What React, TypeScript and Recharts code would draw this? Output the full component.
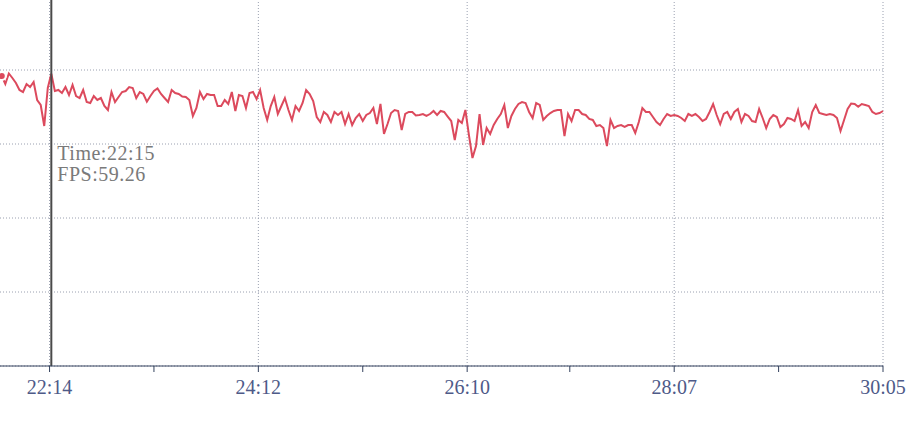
import {
  CartesianGrid,
  Line,
  LineChart,
  ReferenceLine,
  XAxis,
  YAxis,
} from 'recharts';

// FPS samples, one every 2 seconds starting at 21:47
const startSecond = 1307;
const stepSeconds = 2;

const fpsValues = [
  58.78, 57.16, 59.29, 58.38, 57.36, 55.95, 55.54, 57.16, 56.55, 57.57,
  53.92, 52.91, 48.65, 56.35, 59.26, 55.74, 55.95, 55.34, 56.55, 54.93,
  56.96, 54.73, 54.32, 55.95, 53.51, 53.31, 54.73, 53.92, 54.32, 52.7,
  51.89, 55.54, 53.51, 54.53, 55.54, 55.74, 56.55, 56.35, 54.32, 55.54,
  55.14, 53.57, 54.73, 55.74, 56.25, 55.14, 54.32, 53.51, 55.95, 55.34,
  55.14, 54.63, 54.53, 53.92, 50.68, 52.3, 55.54, 54.12, 55.14, 54.93,
  54.93, 52.7, 52.7, 53.92, 53.11, 55.54, 51.69, 54.93, 54.73, 52.3,
  55.34, 55.54, 54.12, 55.95, 52.3, 49.87, 52.7, 54.53, 51.08, 52.7,
  54.32, 51.89, 49.87, 52.7, 51.69, 53.31, 55.95, 55.14, 53.72, 50.47,
  49.46, 51.49, 50.88, 49.46, 51.49, 50.88, 51.49, 49.05, 51.08, 48.85,
  50.27, 51.08, 49.66, 50.88, 51.28, 52.3, 49.05, 53.11, 47.03, 49.05,
  51.28, 51.89, 51.69, 47.84, 51.08, 51.49, 51.49, 50.78, 50.88, 51.08,
  50.68, 51.08, 51.69, 50.88, 51.69, 51.49, 50.57, 49.66, 45.81, 49.87,
  49.26, 51.89, 46.82, 42.16, 44.59, 51.08, 44.8, 48.24, 47.03, 48.85,
  50.07, 51.08, 52.91, 48.24, 50.68, 52.09, 53.11, 53.51, 53.31, 51.49,
  50.27, 53.31, 52.91, 49.87, 50.68, 51.28, 51.69, 51.89, 51.89, 46.62,
  51.08, 49.66, 51.89, 51.89, 51.08, 50.88, 50.07, 49.87, 48.65, 48.85,
  48.24, 44.59, 49.87, 48.24, 48.65, 48.85, 48.45, 48.85, 48.85, 47.23,
  49.46, 52.3, 51.49, 51.49, 50.47, 49.46, 48.85, 50.07, 51.08, 50.68,
  50.88, 50.68, 50.27, 49.66, 51.08, 50.68, 51.08, 50.47, 49.66, 50.07,
  51.49, 53.11, 50.88, 49.05, 51.08, 51.49, 50.07, 51.49, 52.09, 49.46,
  51.08, 50.68, 49.66, 49.46, 52.09, 50.27, 48.24, 50.07, 50.88, 50.47,
  48.45, 49.05, 50.27, 50.07, 49.66, 51.89, 48.65, 49.46, 48.24, 51.49,
  52.91, 51.28, 51.08, 50.88, 51.08, 50.88, 50.27, 47.64, 49.87, 52.09,
  53.21, 53.11, 52.56, 53.11, 52.91, 52.7, 51.49, 51.08, 51.28, 51.69,
];

const xDomain = [1306, 1805];
const majorTicks = [1334, 1452, 1570, 1687, 1805];
const minorTicks = [1393, 1511, 1628, 1746];
const yTicks = [0, 15, 30, 45, 60, 75];

const cursorIndex = 14;

const data = fpsValues.map((fps, i) => ({
  second: startSecond + i * stepSeconds,
  fps,
}));

const allTicks = [...majorTicks, ...minorTicks].sort((a, b) => a - b);

function formatTime(total: number) {
  const min = Math.floor(total / 60);
  const sec = total % 60;
  return `${min}:${String(sec).padStart(2, '0')}`;
}

const textFont = '"Liberation Serif", "DejaVu Serif", serif';

function CursorLabel(props: any) {
  const { x, y } = props.viewBox;
  const point = data[cursorIndex];
  return (
    <text fill="#7a7a7a" fontFamily={textFont} fontSize={20} letterSpacing={0.5}>
      <tspan x={x + 6} y={y + 164}>
        Time:{formatTime(point.second)}
      </tspan>
      <tspan x={x + 6} y={y + 185}>
        FPS:{point.fps.toFixed(2)}
      </tspan>
    </text>
  );
}

export default function App() {
  return (
    <div style={{ position: 'absolute', left: 0, top: -4, width: 906, height: 427 }}>
      <LineChart
        width={906}
        height={427}
        data={data}
        margin={{ top: 0, right: 23, left: 0, bottom: 0 }}
      >
        <CartesianGrid
          vertical={false}
          stroke="#9aa0b0"
          strokeDasharray="1 2"
        />
        {majorTicks.map((t) => (
          <ReferenceLine
            key={t}
            x={t}
            stroke="#9aa0b0"
            strokeDasharray="1 2"
          />
        ))}
        <XAxis
          dataKey="second"
          type="number"
          domain={xDomain}
          ticks={allTicks}
          interval={0}
          height={57}
          tickSize={6}
          tickMargin={8}
          stroke="#34425e"
          tick={{ fill: '#4e5a88', fontSize: 20, fontFamily: textFont }}
          tickFormatter={(v: number) => (majorTicks.includes(v) ? formatTime(v) : '')}
        />
        <YAxis hide domain={[0, 75]} ticks={yTicks} />
        <Line
          type="linear"
          dataKey="fps"
          stroke="#dc4a5d"
          strokeWidth={2}
          dot={false}
          isAnimationActive={false}
        />
        <ReferenceLine
          x={data[cursorIndex].second}
          stroke="#4a4a4a"
          strokeWidth={2}
          label={CursorLabel}
        />
      </LineChart>
    </div>
  );
}
